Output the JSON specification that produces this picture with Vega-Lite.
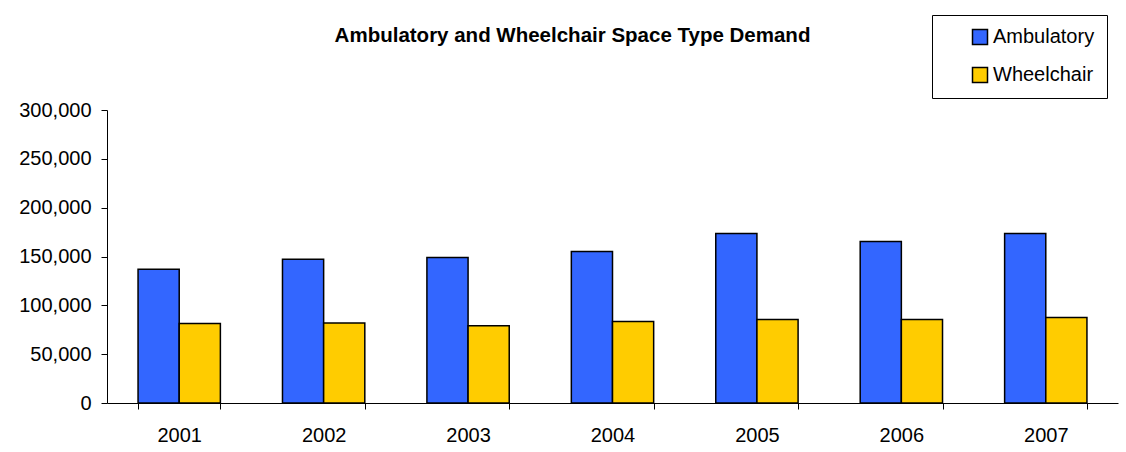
{
  "$schema": "https://vega.github.io/schema/vega-lite/v6.json",
  "width": 1011,
  "height": 293,
  "autosize": {"type": "none"},
  "padding": {"left": 107, "top": 110, "right": 8, "bottom": 49},
  "background": "white",
  "title": {
    "text": "Ambulatory and Wheelchair Space Type Demand",
    "font": "Liberation Sans",
    "fontSize": 20.5,
    "fontWeight": "bold",
    "color": "black",
    "anchor": "middle",
    "dx": -40,
    "offset": 0,
    "dy": 32
  },
  "data": {
    "values": [
      {"year": "2001", "type": "Ambulatory", "value": 137000},
      {"year": "2001", "type": "Wheelchair", "value": 81400},
      {"year": "2002", "type": "Ambulatory", "value": 147300},
      {"year": "2002", "type": "Wheelchair", "value": 81800},
      {"year": "2003", "type": "Ambulatory", "value": 148900},
      {"year": "2003", "type": "Wheelchair", "value": 79200},
      {"year": "2004", "type": "Ambulatory", "value": 155100},
      {"year": "2004", "type": "Wheelchair", "value": 83500},
      {"year": "2005", "type": "Ambulatory", "value": 173500},
      {"year": "2005", "type": "Wheelchair", "value": 85500},
      {"year": "2006", "type": "Ambulatory", "value": 165300},
      {"year": "2006", "type": "Wheelchair", "value": 85500},
      {"year": "2007", "type": "Ambulatory", "value": 173500},
      {"year": "2007", "type": "Wheelchair", "value": 87600}
    ]
  },
  "mark": {"type": "bar", "stroke": "black", "strokeWidth": 1.5},
  "encoding": {
    "x": {
      "field": "year",
      "type": "nominal",
      "title": null,
      "scale": {"paddingInner": 0.43, "paddingOuter": 0.215},
      "axis": {
        "labelAngle": 0,
        "domainColor": "black",
        "domainWidth": 1,
        "tickColor": "black",
        "tickSize": 6,
        "tickBand": "extent",
        "labelPadding": 16,
        "labelFont": "Liberation Sans",
        "labelFontSize": 20,
        "labelColor": "black"
      }
    },
    "xOffset": {"field": "type", "type": "nominal", "scale": {"paddingInner": 0, "paddingOuter": 0}},
    "y": {
      "field": "value",
      "type": "quantitative",
      "title": null,
      "scale": {"domain": [0, 300000]},
      "axis": {
        "values": [0, 50000, 100000, 150000, 200000, 250000, 300000],
        "format": ",d",
        "grid": false,
        "domainColor": "black",
        "domainWidth": 1,
        "tickColor": "black",
        "tickSize": 6,
        "labelPadding": 10,
        "labelFont": "Liberation Sans",
        "labelFontSize": 20,
        "labelColor": "black"
      }
    },
    "color": {
      "field": "type",
      "type": "nominal",
      "scale": {"domain": ["Ambulatory", "Wheelchair"], "range": ["#3366FF", "#FFCC00"]},
      "legend": {
        "title": null,
        "orient": "none",
        "legendX": 825,
        "legendY": -95,
        "strokeColor": "black",
        "fillColor": "white",
        "padding": 12,
        "symbolOffset": 26,
        "rowPadding": 16,
        "symbolType": "square",
        "symbolSize": 225,
        "symbolStrokeColor": "black",
        "symbolStrokeWidth": 1.5,
        "labelOffset": 3,
        "labelFont": "Liberation Sans",
        "labelFontSize": 20,
        "labelColor": "black"
      }
    }
  },
  "config": {"view": {"stroke": null}}
}
